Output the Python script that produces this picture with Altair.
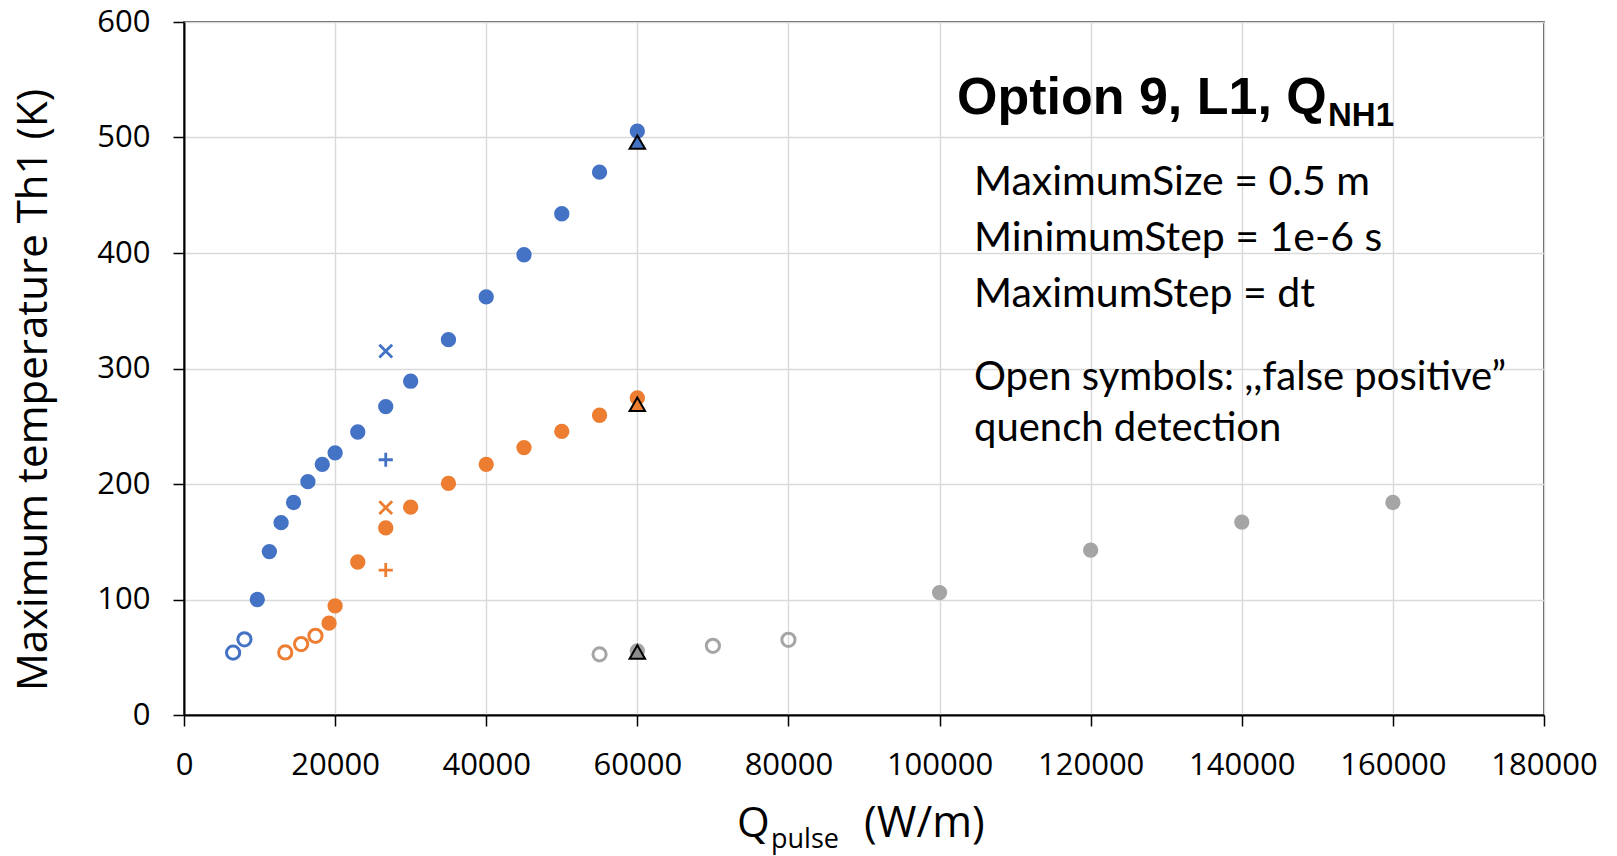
import altair as alt
import pandas as pd

# ---------------- data ----------------
SERIES = ["Series 1", "Series 2", "Series 3"]

# Series 1 (blue)
s1_filled_q = [9700, 11300, 12850, 14500, 16400, 18300, 20000, 23000, 26700, 30000,
               35000, 40000, 45000, 50000, 55000, 60000]
s1_filled_t = [100, 141.5, 166.5, 184, 202, 217, 227, 245, 267, 289,
               325, 362, 398.5, 434, 470, 505.5]
s1_open_q = [6500, 8000]
s1_open_t = [54, 65.5]
s1_tri_q = [60000]
s1_tri_t = [496]
s1_x_q = [26700]
s1_x_t = [315]
s1_plus_q = [26700]
s1_plus_t = [221]

# Series 2 (orange)
s2_filled_q = [19200, 20000, 23000, 26700, 30000, 35000, 40000, 45000, 50000, 55000, 60000]
s2_filled_t = [79.5, 94.5, 132.5, 162, 180, 200.5, 217, 231.5, 245.5, 259.5, 274.5]
s2_open_q = [13400, 15500, 17400]
s2_open_t = [54.2, 61.4, 68.6]
s2_tri_q = [60000]
s2_tri_t = [269]
s2_x_q = [26700]
s2_x_t = [179.5]
s2_plus_q = [26700]
s2_plus_t = [125.5]

# Series 3 (gray)
s3_filled_q = [60000, 100000, 120000, 140000, 160000]
s3_filled_t = [55.5, 106, 142.7, 167, 184]
s3_open_q = [55000, 70000, 80000]
s3_open_t = [52.5, 59.9, 65.1]
s3_tri_q = [60000]
s3_tri_t = [54.5]

x_ticks = [0, 20000, 40000, 60000, 80000, 100000, 120000, 140000, 160000, 180000]
y_ticks = [0, 100, 200, 300, 400, 500, 600]

title_main = "Option 9, L1, Q"
title_sub = "NH1"
notes = ["MaximumSize = 0.5 m", "MinimumStep = 1e-6 s", "MaximumStep = dt",
         "Open symbols: ,,false positive\u201d", "quench detection"]
y_title = "Maximum temperature Th1  (K)"
x_title_main = "Q"
x_title_sub = "pulse"
x_title_unit = "(W/m)"

# ---------------- build table ----------------
rows = []


def add(series, kind, qs, ts):
    for q, t in zip(qs, ts):
        rows.append({"Q": q, "T": t, "series": series, "kind": kind})


add(SERIES[0], "filled", s1_filled_q, s1_filled_t)
add(SERIES[0], "open", s1_open_q, s1_open_t)
add(SERIES[0], "tri", s1_tri_q, s1_tri_t)
add(SERIES[0], "x", s1_x_q, s1_x_t)
add(SERIES[0], "plus", s1_plus_q, s1_plus_t)
add(SERIES[1], "filled", s2_filled_q, s2_filled_t)
add(SERIES[1], "open", s2_open_q, s2_open_t)
add(SERIES[1], "tri", s2_tri_q, s2_tri_t)
add(SERIES[1], "x", s2_x_q, s2_x_t)
add(SERIES[1], "plus", s2_plus_q, s2_plus_t)
add(SERIES[2], "filled", s3_filled_q, s3_filled_t)
add(SERIES[2], "open", s3_open_q, s3_open_t)
add(SERIES[2], "tri", s3_tri_q, s3_tri_t)
df = pd.DataFrame(rows)

COLORS = ["#4472C4", "#ED7D31", "#A5A5A5"]
TRI_COLORS = ["#4472C4", "#ED7D31", "#8C8C8C"]
color_scale = alt.Scale(domain=SERIES, range=COLORS)

X = alt.X("Q:Q", scale=alt.Scale(domain=[0, 180000], nice=False),
          axis=alt.Axis(values=x_ticks, title=None, format="d", labelPadding=24))
Y = alt.Y("T:Q", scale=alt.Scale(domain=[0, 600], nice=False),
          axis=alt.Axis(values=y_ticks, title=None, format="d", labelPadding=23))

base = alt.Chart(df).encode(x=X, y=Y)
col = alt.Color("series:N", scale=color_scale, legend=None)

filled = base.transform_filter(alt.datum.kind == "filled").mark_point(
    shape="circle", filled=True, size=235, opacity=1).encode(color=col)
opened = base.transform_filter(alt.datum.kind == "open").mark_point(
    shape="circle", filled=False, size=175, strokeWidth=3, opacity=1).encode(color=col)
xmark = base.transform_filter(alt.datum.kind == "x").mark_point(
    shape="M-1,-1L1,1M-1,1L1,-1", filled=False, size=165, strokeWidth=2.8, opacity=1).encode(color=col)
plus = base.transform_filter(alt.datum.kind == "plus").mark_point(
    shape="M-1,0L1,0M0,-1L0,1", filled=False, size=200, strokeWidth=2.8, opacity=1).encode(color=col)
tri = base.transform_filter(alt.datum.kind == "tri").mark_point(
    shape="triangle-up", filled=True, size=240, stroke="black", strokeWidth=2, opacity=1).encode(
    fill=alt.Fill("series:N", scale=alt.Scale(domain=SERIES, range=TRI_COLORS), legend=None))


def label(text, x, y, size, font, weight="normal", align="left", angle=0, baseline="alphabetic"):
    return alt.Chart(alt.Data(values=[{}])).mark_text(
        text=text, font=font, fontSize=size, fontWeight=weight, align=align,
        baseline=baseline, angle=angle, color="black").encode(
        x=alt.value(x), y=alt.value(y))


texts = [
    label(title_main, 773, 92, 52, "Liberation Sans", weight="bold"),
    label(title_sub, 1144, 104, 33, "Liberation Sans", weight="bold"),
    label(notes[0], 790, 173, 41, "Lato"),
    label(notes[1], 790, 229, 41, "Lato"),
    label(notes[2], 790, 285, 41, "Lato"),
    label(notes[3], 790, 368, 40, "Lato"),
    label(notes[4], 790, 419, 40, "Lato"),
    label(y_title, -150, 368, 42, "Open Sans", align="center", angle=270, baseline="middle"),
    label(x_title_main, 553, 815, 42, "Open Sans"),
    label(x_title_sub, 587, 826, 27, "Open Sans"),
    label(x_title_unit, 680, 815, 43, "Open Sans"),
]

chart = alt.layer(filled, opened, xmark, plus, tri, *texts).properties(
    width=1360, height=693,
    autosize=alt.AutoSizeParams(type="none"),
    padding={"left": 184, "top": 22, "right": 73, "bottom": 141},
).configure_view(
    stroke="#222222", strokeWidth=1.5
).configure_axis(
    grid=True, gridColor="#D9D9D9", gridWidth=1.4,
    domainColor="black", domainWidth=2,
    tickColor="black", tickWidth=1.5, tickSize=11,
    labelFont="Open Sans", labelFontSize=31, labelColor="black",
    labelFlush=False, labelOverlap=False,
)

chart.save("out.html", embed_options={"renderer": "svg", "actions": False})
